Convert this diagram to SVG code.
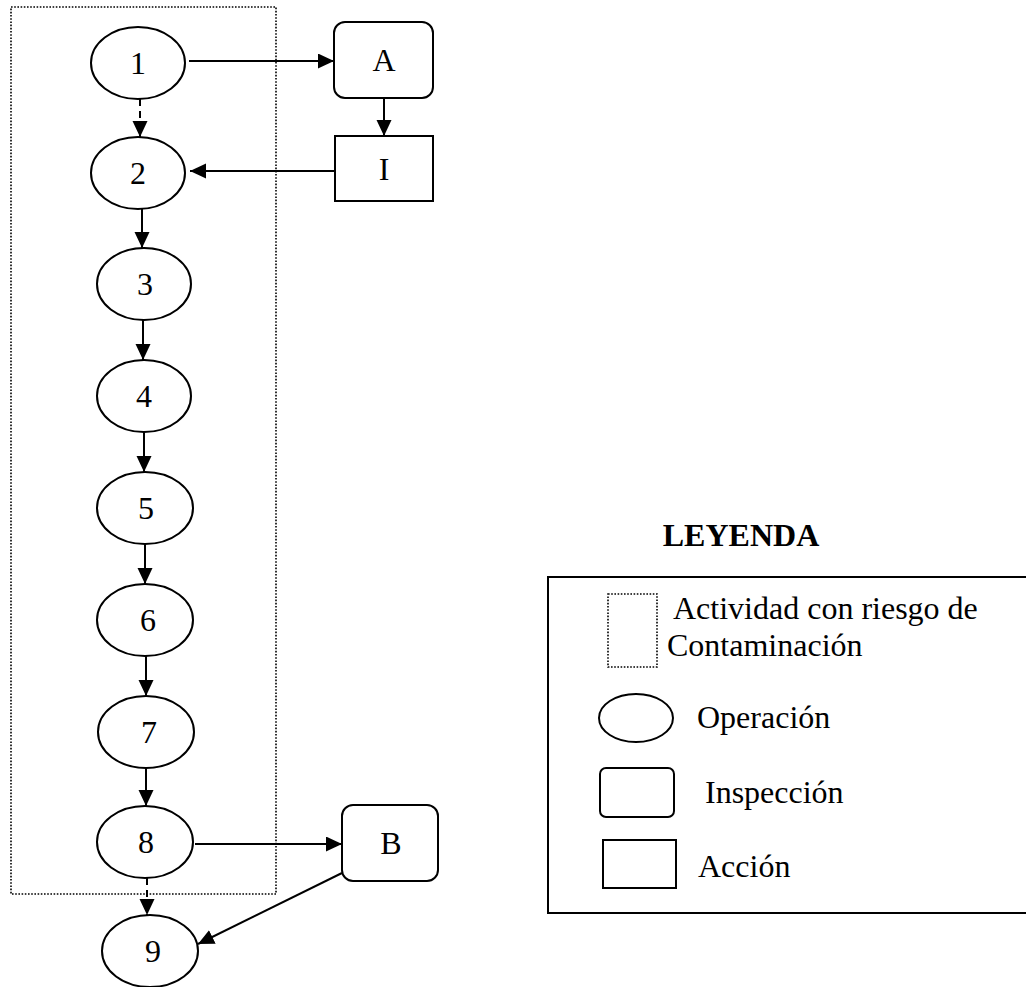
<svg xmlns="http://www.w3.org/2000/svg" width="1026" height="987" viewBox="0 0 1026 987">
  <style>
    .node { fill: #fff; stroke: #000; stroke-width: 2; }
    .zone { fill: none; stroke: #000; stroke-width: 1.6; stroke-dasharray: 1.6 1.6; }
    .edge { fill: none; stroke: #000; stroke-width: 2; marker-end: url(#arrow); }
    .dash { stroke-dasharray: 7 5; }
    .lbl { font-family: "Liberation Serif", "Times New Roman", serif; font-size: 32px; fill: #000; }
    .mid { text-anchor: middle; }
    .title { font-weight: bold; }
  </style>
  <defs>
    <marker id="arrow" markerUnits="userSpaceOnUse" markerWidth="17" markerHeight="16" refX="16" refY="7.5" orient="auto">
      <path d="M0,0 L16,7.5 L0,15 z" fill="#000"/>
    </marker>
  </defs>
  <rect width="1026" height="987" fill="#fff"/>

  <!-- contamination-risk zone -->
  <rect id="zone" class="zone" x="11" y="7" width="265" height="887"/>

  <!-- connectors -->
  <g id="connectors">
    <line class="edge dash" x1="140" y1="99" x2="140" y2="137"/>
    <line class="edge" x1="189" y1="61" x2="334" y2="61"/>
    <line class="edge" x1="384" y1="98" x2="384" y2="136"/>
    <line class="edge" x1="335" y1="171" x2="190" y2="171"/>
    <line class="edge" x1="142" y1="209" x2="142" y2="248"/>
    <line class="edge" x1="143" y1="320" x2="143" y2="360"/>
    <line class="edge" x1="144" y1="432" x2="144" y2="472"/>
    <line class="edge" x1="145" y1="544" x2="145" y2="584"/>
    <line class="edge" x1="146" y1="656" x2="146" y2="696"/>
    <line class="edge" x1="146" y1="768" x2="146" y2="806"/>
    <line class="edge" x1="195" y1="844" x2="342" y2="844"/>
    <line class="edge dash" x1="147" y1="878" x2="147" y2="915"/>
    <line class="edge" x1="342" y1="873" x2="198" y2="944"/>
  </g>

  <!-- operations -->
  <g id="n1"><ellipse class="node" cx="138" cy="63" rx="47" ry="36"/><text class="lbl mid" x="138" y="74">1</text></g>
  <g id="n2"><ellipse class="node" cx="138" cy="173" rx="47" ry="36"/><text class="lbl mid" x="138" y="184">2</text></g>
  <g id="n3"><ellipse class="node" cx="144" cy="284" rx="47" ry="36"/><text class="lbl mid" x="145" y="295">3</text></g>
  <g id="n4"><ellipse class="node" cx="144" cy="396" rx="47" ry="36"/><text class="lbl mid" x="144" y="407">4</text></g>
  <g id="n5"><ellipse class="node" cx="145" cy="508" rx="48" ry="36"/><text class="lbl mid" x="146" y="519">5</text></g>
  <g id="n6"><ellipse class="node" cx="145" cy="620" rx="48" ry="36"/><text class="lbl mid" x="148" y="631">6</text></g>
  <g id="n7"><ellipse class="node" cx="146" cy="732" rx="48" ry="36"/><text class="lbl mid" x="149" y="743">7</text></g>
  <g id="n8"><ellipse class="node" cx="145" cy="842" rx="48" ry="36"/><text class="lbl mid" x="146" y="853">8</text></g>
  <g id="n9"><ellipse class="node" cx="150" cy="951" rx="48" ry="36"/><text class="lbl mid" x="153" y="962">9</text></g>

  <!-- inspections -->
  <g id="nA"><rect class="node" x="334" y="22" width="99" height="76" rx="11"/><text class="lbl mid" x="384" y="71">A</text></g>
  <g id="nB"><rect class="node" x="342" y="805" width="96" height="76" rx="11"/><text class="lbl mid" x="391" y="854">B</text></g>

  <!-- action -->
  <g id="nI"><rect class="node" x="335" y="136" width="98" height="65"/><text class="lbl mid" x="384" y="180">I</text></g>

  <!-- legend -->
  <g id="legend">
    <text class="lbl mid title" x="741" y="546">LEYENDA</text>
    <rect class="node" x="548" y="577" width="482" height="336"/>
    <rect class="zone" x="608" y="594" width="49" height="73"/>
    <text class="lbl" x="673" y="619">Actividad con riesgo de</text>
    <text class="lbl" x="667" y="656">Contaminación</text>
    <ellipse class="node" cx="636" cy="718" rx="37" ry="24"/>
    <text class="lbl" x="697" y="728">Operación</text>
    <rect class="node" x="600" y="768" width="74" height="49" rx="6"/>
    <text class="lbl" x="705" y="803">Inspección</text>
    <rect class="node" x="603" y="840" width="73" height="48"/>
    <text class="lbl" x="698" y="877">Acción</text>
  </g>
</svg>
